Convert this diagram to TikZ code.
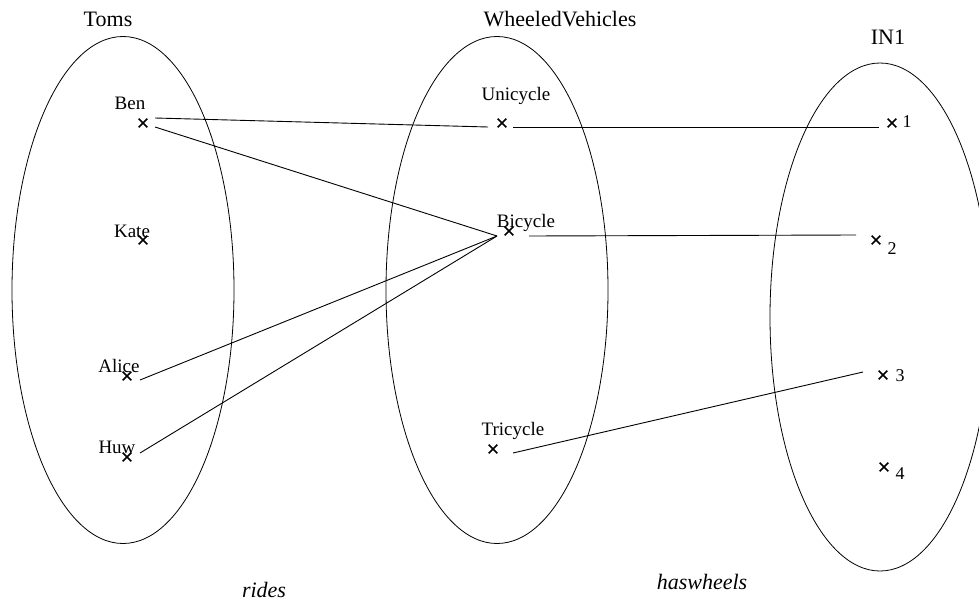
\documentclass[tikz,border=0pt]{standalone}
\usepackage{fontspec}
\setmainfont{Liberation Serif}
\usetikzlibrary{shapes.geometric,shapes.misc}
\begin{document}
\begin{tikzpicture}[x=1pt,y=-1pt,
  setshape/.style={draw, ellipse, inner sep=0pt, line width=0.8pt, minimum width=222pt, minimum height=507pt},
  title/.style={anchor=base, font=\fontsize{22}{26}\selectfont, inner sep=0pt},
  item/.style={anchor=base, font=\fontsize{19}{22}\selectfont, inner sep=0pt},
  num/.style={anchor=base, font=\fontsize{18}{21}\selectfont, inner sep=0pt},
  rel/.style={anchor=base, font=\fontsize{22}{26}\selectfont\itshape, inner sep=0pt},
  link/.style={line width=0.9pt},
  xmark/.style={draw, cross out, inner sep=0pt, minimum size=7pt, line width=1.7pt}]
\useasboundingbox (0,0) rectangle (979,602);
% sets
\node[setshape] (toms) at (123,290) {};
\node[setshape] (wheeled) at (497,290) {};
\node[setshape, minimum width=220pt, minimum height=508pt] (in1) at (880,317) {};
% titles
\node[title] (tomsT) at (108,27) {Toms};
\node[title] (wheeledT) at (560,27) {WheeledVehicles};
\node[title] (in1T) at (888,45) {IN1};
% elements
\node[xmark] (ben) at (143,123) {};
\node[xmark] (kate) at (143,240) {};
\node[xmark] (alice) at (127,376) {};
\node[xmark] (huw) at (127,457) {};
\node[xmark] (uni) at (502,123) {};
\node[xmark] (bic) at (509,231) {};
\node[xmark] (tri) at (493,449) {};
\node[xmark] (one) at (892,123) {};
\node[xmark] (two) at (876,240) {};
\node[xmark] (three) at (883,375) {};
\node[xmark] (four) at (884,467) {};
% element labels
\node[item] (benL) at (130,109) {Ben};
\node[item] (kateL) at (132,237) {Kate};
\node[item] (aliceL) at (119,372) {Alice};
\node[item] (huwL) at (117,453) {Huw};
\node[item] (uniT) at (516,100) {Unicycle};
\node[item] (bicT) at (526,227) {Bicycle};
\node[item] (triT) at (513,435) {Tricycle};
\node[num] (oneT) at (907,127) {1};
\node[num] (twoT) at (892,254) {2};
\node[num] (threeT) at (900,381) {3};
\node[num] (fourT) at (900,479) {4};
% relation names
\node[rel] (rides) at (264,597) {rides};
\node[rel] (haswheels) at (702,589) {haswheels};
% connector ends
\coordinate (benA) at (155,118);
\coordinate (benB) at (155,127);
\coordinate (uniL) at (488,127);
\coordinate (uniR) at (513,127);
\coordinate (bicL) at (497,236);
\coordinate (bicR) at (529,236);
\coordinate (aliR) at (140,380);
\coordinate (huwR) at (140,453);
\coordinate (triR) at (513,453);
\coordinate (oneL) at (879,127);
\coordinate (twoL) at (856,235);
\coordinate (thrL) at (863,372);
% rides
\draw[link] (benA) -- (uniL);
\draw[link] (benB) -- (bicL);
\draw[link] (aliR) -- (bicL);
\draw[link] (huwR) -- (bicL);
% haswheels
\draw[link] (uniR) -- (oneL);
\draw[link] (bicR) -- (twoL);
\draw[link] (triR) -- (thrL);
\end{tikzpicture}
\end{document}
